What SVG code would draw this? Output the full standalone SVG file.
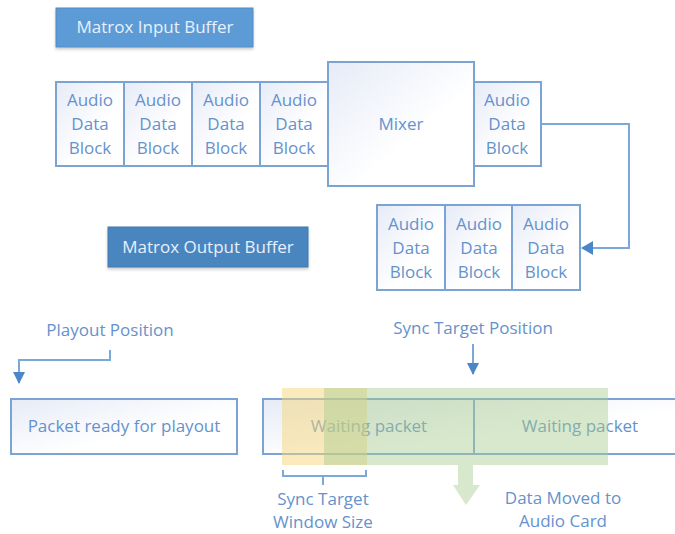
<svg xmlns="http://www.w3.org/2000/svg" width="675" height="534" viewBox="0 0 675 534">
<defs>
<linearGradient id="g" x1="0" y1="0" x2="1" y2="1">
<stop offset="0" stop-color="#e6ebf7"/><stop offset="0.6" stop-color="#ffffff"/><stop offset="1" stop-color="#ffffff"/>
</linearGradient>
<filter id="sh" x="-10%" y="-20%" width="120%" height="150%"><feDropShadow dx="0" dy="2" stdDeviation="1.5" flood-color="#000" flood-opacity="0.2"/></filter>
<marker id="ah" viewBox="0 0 12 12" refX="11" refY="6" markerWidth="12" markerHeight="12" markerUnits="userSpaceOnUse" orient="auto"><path d="M0,0 L12,6 L0,12 Z" fill="#4a86c8"/></marker>
<marker id="ah2" viewBox="0 0 12 14" refX="11" refY="7" markerWidth="12" markerHeight="14" markerUnits="userSpaceOnUse" orient="auto"><path d="M0,0 L12,7 L0,14 Z" fill="#4a86c8"/></marker>
</defs>
<style>
.b{fill:url(#g);stroke:#7ba4d4;stroke-width:2}
.t{font-family:"Open Sans","Noto Sans",sans-serif;font-size:17px;fill:#6592cc;text-anchor:middle}
.lb{font-family:"Open Sans","Noto Sans",sans-serif;font-size:17px;fill:#6592cc;text-anchor:middle}
.hd{font-family:"Open Sans","Noto Sans",sans-serif;font-size:17px;fill:#e8f0fa;text-anchor:middle}
.c{fill:none;stroke:#7ba8da;stroke-width:2}
</style>
<g id="input-buffer"><rect x="56" y="8" width="197" height="39" fill="#5b9bd5" stroke="#4f8cc6" filter="url(#sh)"/><text class="hd" x="155" y="33">Matrox Input Buffer</text></g>
<g id="output-buffer"><rect x="108" y="227" width="200" height="40" fill="#4a86c0" stroke="#3f78b0" filter="url(#sh)"/><text class="hd" x="208" y="253">Matrox Output Buffer</text></g>
<g id="in1"><rect class="b" x="56" y="82" width="68" height="84"/><text class="t"><tspan x="90" y="106">Audio</tspan><tspan x="90" y="130">Data</tspan><tspan x="90" y="154">Block</tspan></text></g>
<g id="in2"><rect class="b" x="124" y="82" width="68" height="84"/><text class="t"><tspan x="158" y="106">Audio</tspan><tspan x="158" y="130">Data</tspan><tspan x="158" y="154">Block</tspan></text></g>
<g id="in3"><rect class="b" x="192" y="82" width="68" height="84"/><text class="t"><tspan x="226" y="106">Audio</tspan><tspan x="226" y="130">Data</tspan><tspan x="226" y="154">Block</tspan></text></g>
<g id="in4"><rect class="b" x="260" y="82" width="68" height="84"/><text class="t"><tspan x="294" y="106">Audio</tspan><tspan x="294" y="130">Data</tspan><tspan x="294" y="154">Block</tspan></text></g>
<g id="mixer"><rect class="b" x="328" y="62" width="146" height="124"/><text class="t" x="401" y="130">Mixer</text></g>
<g id="mixout"><rect class="b" x="474" y="82" width="67" height="84"/><text class="t"><tspan x="507" y="106">Audio</tspan><tspan x="507" y="130">Data</tspan><tspan x="507" y="154">Block</tspan></text></g>
<g id="out1"><rect class="b" x="377" y="205" width="68" height="85"/><text class="t"><tspan x="411" y="230">Audio</tspan><tspan x="411" y="254">Data</tspan><tspan x="411" y="278">Block</tspan></text></g>
<g id="out2"><rect class="b" x="445" y="205" width="67" height="85"/><text class="t"><tspan x="479" y="230">Audio</tspan><tspan x="479" y="254">Data</tspan><tspan x="479" y="278">Block</tspan></text></g>
<g id="out3"><rect class="b" x="512" y="205" width="68" height="85"/><text class="t"><tspan x="546" y="230">Audio</tspan><tspan x="546" y="254">Data</tspan><tspan x="546" y="278">Block</tspan></text></g>
<g id="ready"><rect class="b" x="11" y="399" width="226" height="55"/><text class="t" x="124" y="432">Packet ready for playout</text></g>
<g id="waiting"><rect class="b" x="263" y="399" width="420" height="55"/><line x1="474" y1="399" x2="474" y2="454" stroke="#7ba4d4" stroke-width="2"/><text class="t" x="369" y="432">Waiting packet</text><text class="t" x="580" y="432">Waiting packet</text></g>
<g id="window">
<rect x="282" y="388" width="85" height="77" fill="#f5d67a" fill-opacity="0.5"/>
<rect x="324" y="388" width="284" height="77" fill="#a9cc8e" fill-opacity="0.45"/>
<path d="M458,465 H473 V485 H480 L466,505 L453,485 H458 Z" fill="#a9cc8e" fill-opacity="0.45"/>
</g>
<g id="connectors">
<path class="c" d="M541,124 H629 V248 H582" marker-end="url(#ah2)"/>
<path class="c" d="M110,350 V360 H19 V383" marker-end="url(#ah)"/>
<path class="c" d="M473,344 V374" marker-end="url(#ah)"/>
<path class="c" d="M283,470 V476 H366 V470 M323,476 V485"/>
</g>
<g id="labels">
<text class="lb" x="110" y="336">Playout Position</text>
<text class="lb" x="473" y="334">Sync Target Position</text>
<text class="lb"><tspan x="323" y="505">Sync Target</tspan><tspan x="323" y="528">Window Size</tspan></text>
<text class="lb"><tspan x="563" y="504">Data Moved to</tspan><tspan x="563" y="527">Audio Card</tspan></text>
</g>
</svg>
